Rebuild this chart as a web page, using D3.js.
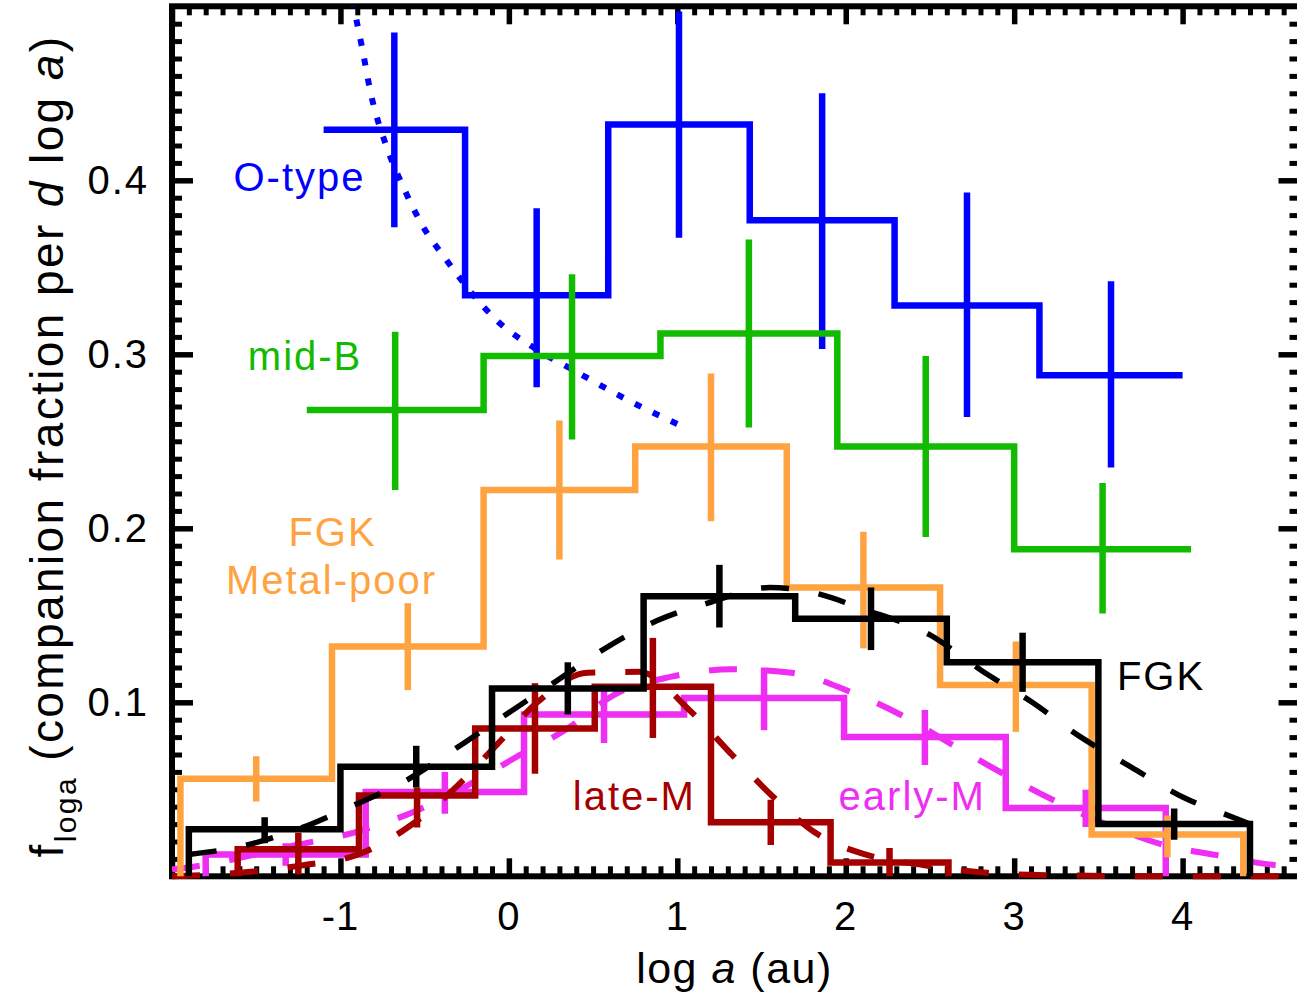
<!DOCTYPE html>
<html>
<head>
<meta charset="utf-8">
<script src="https://cdn.jsdelivr.net/npm/d3@7"></script>
<style>
  html, body { margin: 0; padding: 0; background: #fff; }
  svg { display: block; }
  text { font-family: "Liberation Sans", Arial, Helvetica, sans-serif; }
</style>
</head>
<body>
<svg id="chart" width="1297" height="997"></svg>
<script>
// ---- O-type primaries ----
const oEdges = [-1.10, -0.26, 0.59, 1.43, 2.29, 3.15, 4.00];
const oVals  = [0.429, 0.334, 0.432, 0.377, 0.328, 0.288];
const oLo    = [0.373, 0.281, 0.367, 0.303, 0.264, 0.235];
const oHi    = [0.485, 0.384, 0.497, 0.450, 0.393, 0.342];
// dotted model curve for O-type
const oCurveX = [-0.95, -0.917, -0.869, -0.822, -0.721, -0.626, -0.513, -0.377, -0.240, -0.062, 0.145, 0.40, 0.70, 1.02];
const oCurveY = [0.515, 0.498, 0.475, 0.451, 0.418, 0.396, 0.374, 0.355, 0.3375, 0.3186, 0.304, 0.290, 0.274, 0.259];

// ---- mid-B primaries ----
const bEdges = [-1.20, -0.15, 0.90, 1.95, 3.00, 4.05];
const bVals  = [0.268, 0.299, 0.312, 0.247, 0.188];
const bLo    = [0.222, 0.251, 0.258, 0.195, 0.151];
const bHi    = [0.313, 0.346, 0.366, 0.299, 0.226];

// ---- metal-poor FGK ----
const mpEdges = [-1.95, -1.05, -0.15, 0.75, 1.65, 2.56, 3.46, 4.36];
const mpVals  = [0.056, 0.132, 0.222, 0.247, 0.166, 0.110, 0.024];
const mpLo    = [0.043, 0.107, 0.182, 0.204, 0.131, 0.083, 0.011];
const mpHi    = [0.069, 0.157, 0.262, 0.289, 0.198, 0.135, 0.035];

// ---- solar-type FGK ----
const fEdges = [-1.90, -1.00, -0.10, 0.80, 1.70, 2.60, 3.50, 4.40];
const fVals  = [0.027, 0.063, 0.108, 0.161, 0.148, 0.123, 0.030];
const fLo    = [0.019, 0.051, 0.093, 0.143, 0.130, 0.106, 0.021];
const fHi    = [0.034, 0.075, 0.123, 0.179, 0.166, 0.140, 0.039];
const fCurveX = [-1.90, -1.58, -1.249, -0.94, -0.626, -0.312, -0.021, 0.264, 0.555, 0.881, 1.18, 1.55, 1.85, 2.09, 2.50, 2.81, 3.107, 3.38, 3.69, 4.00, 4.31, 4.40];
const fCurveY = [0.0125, 0.0174, 0.0272, 0.040, 0.0542, 0.0737, 0.0927, 0.111, 0.130, 0.147, 0.157, 0.166, 0.162, 0.154, 0.1387, 0.118, 0.100, 0.081, 0.063, 0.0456, 0.0335, 0.030];

// ---- early-M dwarfs ----
const emEdges = [-1.80, -0.85, 0.09, 1.04, 1.99, 2.95, 3.90];
const emVals  = [0.0125, 0.0485, 0.093, 0.1025, 0.080, 0.0393];
const emLo    = [0.006, 0.036, 0.0766, 0.084, 0.064, 0.0284];
const emHi    = [0.019, 0.060, 0.107, 0.120, 0.0956, 0.0497];
const emCurveX = [-2.0, -1.926, -1.261, -0.887, -0.567, -0.25, 0.045, 0.353, 0.62, 0.958, 1.326, 1.677, 2.015, 2.323, 2.644, 2.935, 3.243, 3.558, 3.89, 4.23, 4.50, 4.75];
const emCurveY = [0.004, 0.0048, 0.018, 0.026, 0.037, 0.052, 0.0686, 0.0852, 0.104, 0.1146, 0.119, 0.117, 0.1065, 0.093, 0.075, 0.059, 0.0433, 0.0295, 0.018, 0.0117, 0.007, 0.005];

// ---- late-M dwarfs ----
const lmEdges = [-1.61, -0.89, -0.20, 0.51, 1.20, 1.91, 2.61];
const lmVals  = [0.0155, 0.0465, 0.085, 0.109, 0.031, 0.008];
const lmLo    = [0.001, 0.028, 0.059, 0.0795, 0.018, 0.000];
const lmHi    = [0.025, 0.051, 0.111, 0.137, 0.044, 0.0163];
const lmCurveX = [-2.0, -1.6, -1.25, -0.887, -0.58, -0.306, -0.068, 0.169, 0.466, 0.77, 1.083, 1.326, 1.57, 1.82, 2.146, 2.46, 2.84, 3.3, 4.0, 4.75];
const lmCurveY = [0.0, 0.002, 0.006, 0.0128, 0.0295, 0.052, 0.076, 0.100, 0.117, 0.1175, 0.0945, 0.0697, 0.0456, 0.025, 0.0117, 0.0065, 0.002, 0.0005, 0.0, 0.0];

// ---- axis ticks ----
const xTickVals = [-1, 0, 1, 2, 3, 4];
const xTickText = ["-1", "0", "1", "2", "3", "4"];
const yTickVals = [0.1, 0.2, 0.3, 0.4];
const yTickText = ["0.1", "0.2", "0.3", "0.4"];

// ---- drawing ----
const L = 172, R = 1300.5, T = 6.3, B = 876.3;

const svg = d3.select("#chart");
const x = d3.scaleLinear().domain([-2, 4.7]).range([L, R]);
const y = d3.scaleLinear().domain([0, 0.5]).range([B, T]);

const COL = {
  blue: "#0000ff", green: "#12bb00", orange: "#ffa340",
  black: "#000000", magenta: "#ee2ef2", darkred: "#a50000"
};

// data layer clipped to the frame
svg.append("defs").append("clipPath").attr("id", "plotclip")
  .append("rect").attr("x", L).attr("y", T).attr("width", R - L).attr("height", B - T + 4);

// axes: inward ticks on all four sides
const minorX = d3.range(-20, 48).map(d => d / 10).filter(d => Math.abs(d - Math.round(d)) > 1e-6);
const minorY = d3.range(1, 50).map(d => d / 100).filter(d => (Math.round(d * 100) % 10) !== 0);
const majorX = d3.range(-2, 5);
const majorY = [0.1, 0.2, 0.3, 0.4];

function styleAxis(g, w) {
  g.select(".domain").remove();
  g.selectAll(".tick line").attr("stroke", "#000").attr("stroke-width", w);
  g.selectAll(".tick text").remove();
}
const axes = svg.append("g");
axes.append("g").attr("transform", `translate(0,${B})`)
  .call(d3.axisBottom(x).tickValues(minorX).tickSize(-10).tickFormat(""))
  .call(g => styleAxis(g, 5));
axes.append("g").attr("transform", `translate(0,${B})`)
  .call(d3.axisBottom(x).tickValues(majorX).tickSize(-18).tickFormat(""))
  .call(g => styleAxis(g, 5.5));
axes.append("g").attr("transform", `translate(0,${T})`)
  .call(d3.axisTop(x).tickValues(minorX).tickSize(-9).tickFormat(""))
  .call(g => styleAxis(g, 5));
axes.append("g").attr("transform", `translate(0,${T})`)
  .call(d3.axisTop(x).tickValues(majorX).tickSize(-18).tickFormat(""))
  .call(g => styleAxis(g, 5.5));
axes.append("g").attr("transform", `translate(${L},0)`)
  .call(d3.axisLeft(y).tickValues(minorY).tickSize(-10).tickFormat(""))
  .call(g => styleAxis(g, 5));
axes.append("g").attr("transform", `translate(${L},0)`)
  .call(d3.axisLeft(y).tickValues(majorY).tickSize(-21).tickFormat(""))
  .call(g => styleAxis(g, 5.5));
axes.append("g").attr("transform", `translate(${R},0)`)
  .call(d3.axisRight(y).tickValues(minorY).tickSize(-11).tickFormat(""))
  .call(g => styleAxis(g, 5));
axes.append("g").attr("transform", `translate(${R},0)`)
  .call(d3.axisRight(y).tickValues(majorY).tickSize(-22).tickFormat(""))
  .call(g => styleAxis(g, 5.5));
axes.append("rect").attr("x", L).attr("y", T).attr("width", R - L).attr("height", B - T)
  .attr("fill", "none").attr("stroke", "#000").attr("stroke-width", 6);

// tick labels
svg.append("g").selectAll("text").data(xTickVals).join("text")
  .attr("x", d => x(d)).attr("y", 930)
  .attr("text-anchor", "middle").attr("font-size", 40).attr("letter-spacing", 1)
  .text((d, i) => xTickText[i]);
svg.append("g").selectAll("text").data(yTickVals).join("text")
  .attr("x", 149).attr("y", d => y(d) + 14)
  .attr("text-anchor", "end").attr("font-size", 40).attr("letter-spacing", 2)
  .text((d, i) => yTickText[i]);

// axis titles
const xt = svg.append("text").attr("x", (L + 1297) / 2).attr("y", 983)
  .attr("text-anchor", "middle").attr("font-size", 43).attr("letter-spacing", 1.5);
xt.append("tspan").text("log ");
xt.append("tspan").attr("font-style", "italic").text("a");
xt.append("tspan").text(" (au)");

const yt = svg.append("text").attr("transform", "translate(63,446) rotate(-90)")
  .attr("text-anchor", "middle").attr("font-size", 46).attr("letter-spacing", 2.4);
yt.append("tspan").text("f");
yt.append("tspan").attr("font-size", 30).attr("dy", 13).text("loga");
yt.append("tspan").attr("dy", -13).text(" (companion fraction per ");
yt.append("tspan").attr("font-style", "italic").text("d");
yt.append("tspan").text(" log ");
yt.append("tspan").attr("font-style", "italic").text("a");
yt.append("tspan").text(")");

// data
const plot = svg.append("g").attr("clip-path", "url(#plotclip)");

function stepPoints(edges, vals, floor) {
  const pts = [];
  if (floor) pts.push([edges[0], 0]);
  vals.forEach((v, i) => pts.push([edges[i], v]));
  pts.push([edges[edges.length - 1], vals[vals.length - 1]]);
  if (floor) pts.push([edges[edges.length - 1], 0]);
  return pts;
}
const stepLine = d3.line().x(d => x(d[0])).y(d => y(d[1])).curve(d3.curveStepAfter);
const smooth = d3.line().x(d => x(d[0])).y(d => y(d[1])).curve(d3.curveMonotoneX);

function drawSeries(s) {
  const g = plot.append("g");
  if (s.curveX) {
    g.append("path").datum(s.curveX.map((v, i) => [v, s.curveY[i]]))
      .attr("d", smooth).attr("fill", "none").attr("stroke", s.color)
      .attr("stroke-width", s.curveW).attr("stroke-dasharray", s.dash);
  }
  g.append("path").datum(stepPoints(s.edges, s.vals, s.floor))
    .attr("d", stepLine).attr("fill", "none").attr("stroke", s.color)
    .attr("stroke-width", 6.5).attr("stroke-linejoin", "miter");
  const centres = s.vals.map((v, i) => (s.edges[i] + s.edges[i + 1]) / 2);
  g.selectAll("line.err").data(centres).join("line").attr("class", "err")
    .attr("x1", d => x(d)).attr("x2", d => x(d))
    .attr("y1", (d, i) => y(s.lo[i])).attr("y2", (d, i) => y(s.hi[i]))
    .attr("stroke", s.color).attr("stroke-width", 6.5);
}

drawSeries({ color: COL.blue, edges: oEdges, vals: oVals, lo: oLo, hi: oHi, floor: false,
             curveX: oCurveX, curveY: oCurveY, dash: "7,13", curveW: 6 });
drawSeries({ color: COL.green, edges: bEdges, vals: bVals, lo: bLo, hi: bHi, floor: false });
drawSeries({ color: COL.magenta, edges: emEdges, vals: emVals, lo: emLo, hi: emHi, floor: true,
             curveX: emCurveX, curveY: emCurveY, dash: "28,30", curveW: 6 });
drawSeries({ color: COL.darkred, edges: lmEdges, vals: lmVals, lo: lmLo, hi: lmHi, floor: true,
             curveX: lmCurveX, curveY: lmCurveY, dash: "28,30", curveW: 6 });
drawSeries({ color: COL.orange, edges: mpEdges, vals: mpVals, lo: mpLo, hi: mpHi, floor: true });
drawSeries({ color: COL.black, edges: fEdges, vals: fVals, lo: fLo, hi: fHi, floor: true,
             curveX: fCurveX, curveY: fCurveY, dash: "28,30", curveW: 5.5 });

// series labels
const labels = [
  { t: "O-type", x: -1.243, y: 0.394, c: COL.blue },
  { t: "mid-B", x: -1.21, y: 0.291, c: COL.green },
  { t: "FGK", x: -1.047, y: 0.190, c: COL.orange },
  { t: "Metal-poor", x: -1.053, y: 0.1625, c: COL.orange },
  { t: "FGK", x: 3.872, y: 0.107, c: COL.black },
  { t: "late-M", x: 0.745, y: 0.038, c: COL.darkred },
  { t: "early-M", x: 2.395, y: 0.038, c: COL.magenta }
];
svg.append("g").selectAll("text").data(labels).join("text")
  .attr("x", d => x(d.x)).attr("y", d => y(d.y))
  .attr("text-anchor", "middle").attr("font-size", 40).attr("letter-spacing", 2)
  .attr("fill", d => d.c).text(d => d.t);
</script>
</body>
</html>
